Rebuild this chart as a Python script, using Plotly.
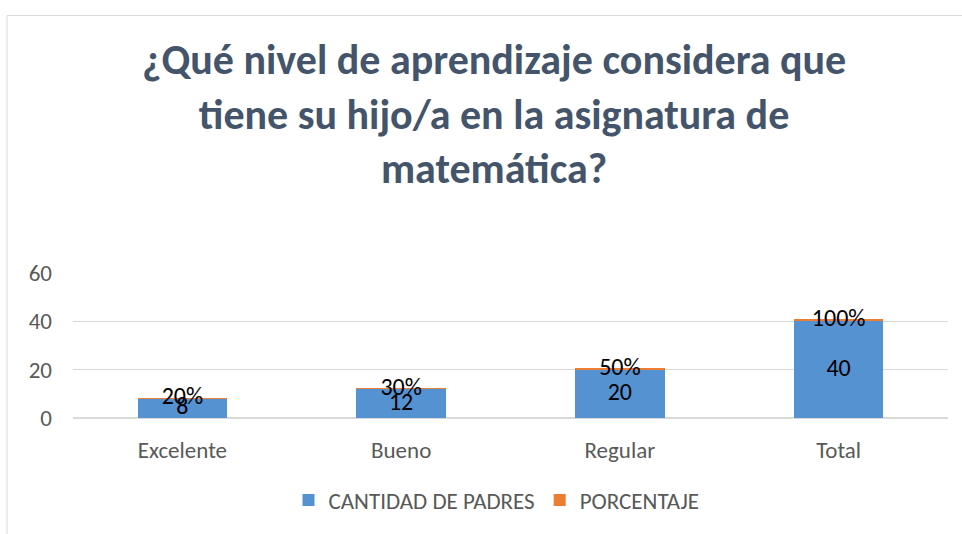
import plotly.graph_objects as go

# Datos
categorias = ['Excelente', 'Bueno', 'Regular', 'Total']
cantidad = [8, 12, 20, 40]
porcentaje = [0.2, 0.3, 0.5, 1.0]
etiquetas_pct = ['20%', '30%', '50%', '100%']

titulo = '¿Qué nivel de aprendizaje considera que<br>tiene su hijo/a en la asignatura de<br>matemática?'

FUENTE = 'Carlito, Lato, Open Sans, sans-serif'
GRIS = '#595959'
AZUL = '#5592D2'
NARANJA = '#ED7D31'

fig = go.Figure()

fig.add_trace(go.Bar(
    x=categorias, y=cantidad, name='CANTIDAD DE PADRES',
    marker=dict(color=AZUL, line=dict(width=0)), width=0.41,
))
fig.add_trace(go.Bar(
    x=categorias, y=porcentaje, name='PORCENTAJE',
    marker=dict(color=NARANJA, line=dict(width=0)), width=0.41,
))

# Etiquetas de datos
fig.add_trace(go.Scatter(
    x=categorias, y=[c / 2 for c in cantidad], mode='text',
    text=[str(c) for c in cantidad], textposition='middle center',
    textfont=dict(family=FUENTE, size=24, color='black'),
    showlegend=False, hoverinfo='skip',
))
fig.add_trace(go.Scatter(
    x=categorias, y=[c + p / 2 for c, p in zip(cantidad, porcentaje)], mode='text',
    text=etiquetas_pct, textposition='middle center',
    textfont=dict(family=FUENTE, size=24, color='black'),
    showlegend=False, hoverinfo='skip',
))

fig.add_annotation(
    text=titulo, xref='paper', yref='paper', x=0.481, y=2.1,
    xanchor='center', yanchor='middle', showarrow=False,
    font=dict(family=FUENTE, size=42, color='#44546A', weight='bold'),
)

# Marco del gráfico
fig.add_shape(type='line', xref='paper', yref='paper',
              x0=-0.0754, x1=-0.0754, y0=2.776, y1=-0.8,
              line=dict(color='#D9D9D9', width=1))
fig.add_shape(type='line', xref='paper', yref='paper',
              x0=-0.0754, x1=1.1, y0=2.776, y1=2.776,
              line=dict(color='#D9D9D9', width=1))

fig.update_layout(
    width=962, height=534,
    barmode='stack',
    margin=dict(l=73, r=14, t=273, b=114),
    paper_bgcolor='white', plot_bgcolor='white',
    font=dict(family=FUENTE, size=23, color=GRIS),
    showlegend=True,
    legend=dict(orientation='h', x=0.484, y=-0.565, xanchor='center', yanchor='middle',
                font=dict(family=FUENTE, size=23, color=GRIS), itemwidth=30,
                traceorder='normal'),
    xaxis=dict(showline=False, showgrid=False, ticks='', ticklabelstandoff=16,
               tickfont=dict(family=FUENTE, size=23, color=GRIS)),
    yaxis=dict(range=[0, 60], dtick=20, showgrid=True, gridcolor='#D9D9D9', gridwidth=1,
               zeroline=True, zerolinecolor='#D9D9D9', showline=False, ticks='',
               ticklabelstandoff=20, tickfont=dict(family=FUENTE, size=23, color=GRIS)),
)

# quitar el margen de 8 px del body y la barra de herramientas
fig.write_html('out.html', config={'displayModeBar': False},
               post_script="document.body.style.margin='0';")
